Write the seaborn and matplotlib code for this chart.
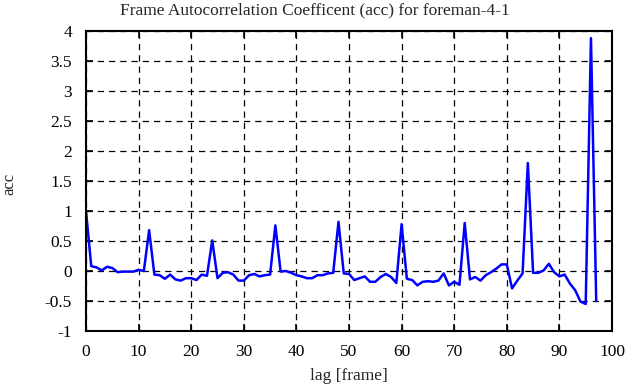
import numpy as np
import pandas as pd
import seaborn as sns
import matplotlib
matplotlib.use("Agg")
import matplotlib.pyplot as plt

# acc values, lag 0..97
lag = list(range(98))
acc = [1.00, 0.08, 0.06, 0.01, 0.07, 0.05, -0.02, -0.01, -0.01, -0.01,
       0.02, 0.00, 0.68, -0.06, -0.07, -0.13, -0.06, -0.14, -0.16, -0.12,
       -0.12, -0.15, -0.06, -0.08, 0.51, -0.12, -0.03, -0.02, -0.06, -0.16,
       -0.16, -0.07, -0.05, -0.09, -0.07, -0.06, 0.76, -0.01, 0.00, -0.03,
       -0.07, -0.09, -0.12, -0.12, -0.07, -0.07, -0.04, -0.03, 0.82, -0.04,
       -0.05, -0.15, -0.12, -0.09, -0.18, -0.18, -0.10, -0.05, -0.10, -0.20,
       0.78, -0.13, -0.15, -0.24, -0.18, -0.17, -0.18, -0.16, -0.04, -0.24,
       -0.18, -0.23, 0.80, -0.14, -0.10, -0.16, -0.07, -0.02, 0.04, 0.11,
       0.11, -0.29, -0.16, -0.04, 1.80, -0.03, -0.03, 0.01, 0.12, -0.02,
       -0.09, -0.06, -0.21, -0.32, -0.51, -0.55, 3.88, -0.50]
yticks = ["-1", "-0.5", "0", "0.5", "1", "1.5", "2", "2.5", "3", "3.5", "4"]

df = pd.DataFrame({"lag": lag, "acc": acc})

sns.set_style("ticks")
plt.rcParams['font.family'] = ['Liberation Serif', 'DejaVu Serif']
plt.rcParams['axes.unicode_minus'] = False

fig = plt.figure(figsize=(6.3, 3.87), dpi=100)
ax = fig.add_axes([86/630, 1-331/387, (612-86)/630, (331-31)/387])

sns.lineplot(data=df, x="lag", y="acc", color="#0000ff", linewidth=1.8, ax=ax)

ax.set_xlim(0, 100)
ax.set_ylim(-1, 4)
ax.set_xticks(range(0, 101, 10))
ax.set_yticks(np.arange(-1, 4.01, 0.5))
ax.set_yticklabels(yticks)
ax.grid(True, color="black", linestyle=(0, (5, 4)), linewidth=0.9)
ax.tick_params(direction="in", length=5, width=1.2, top=True, right=True,
               labelsize=12.5, colors="black")
ax.tick_params(axis="y", pad=10)
ax.tick_params(axis="x", pad=9)
for s in ax.spines.values():
    s.set_linewidth(1.5)
    s.set_color("black")

# title is centred on the whole figure in the original
fig.text(0.5, 1 - 10/387, "Frame Autocorrelation Coefficent (acc) for foreman-4-1",
         fontsize=12.5, ha="center", va="center")
ax.set_xlabel("lag [frame]", fontsize=12.5, labelpad=6)
ax.set_ylabel("acc", fontsize=12)
ax.yaxis.set_label_coords(-0.13, 0.49)

fig.savefig("out.png", dpi=100)
